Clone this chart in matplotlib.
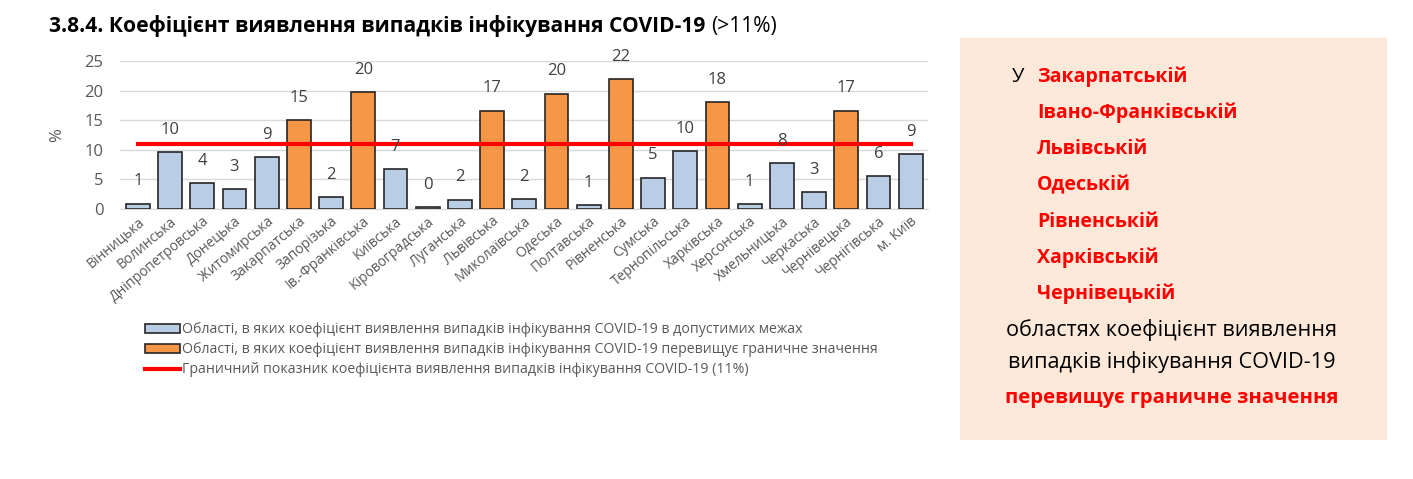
import matplotlib.pyplot as plt
from matplotlib.patches import Patch, Rectangle
from matplotlib.lines import Line2D

plt.rcParams['font.family'] = ['Open Sans', 'DejaVu Sans']

regions = ["Вінницька", "Волинська", "Дніпропетровська", "Донецька", "Житомирська",
           "Закарпатська", "Запорізька", "Ів.-Франківська", "Київська", "Кіровоградська",
           "Луганська", "Львівська", "Миколаївська", "Одеська", "Полтавська",
           "Рівненська", "Сумська", "Тернопільська", "Харківська", "Херсонська",
           "Хмельницька", "Черкаська", "Чернівецька", "Чернігівська", "м. Київ"]
values = [0.9, 9.6, 4.4, 3.4, 8.8, 15.0, 2.0, 19.8, 6.8, 0.3, 1.6, 16.6, 1.7,
          19.5, 0.7, 22.0, 5.3, 9.8, 18.1, 0.8, 7.8, 2.8, 16.6, 5.5, 9.3]
labels = [1, 10, 4, 3, 9, 15, 2, 20, 7, 0, 2, 17, 2, 20, 1, 22, 5, 10, 18, 1, 8, 3, 17, 6, 9]
over_limit = [False, False, False, False, False, True, False, True, False, False,
              False, True, False, True, False, True, False, False, True, False,
              False, False, True, False, False]
limit = 11

highlight = ["Закарпатській", "Івано-Франківській", "Львівській", "Одеській",
             "Рівненській", "Харківській", "Чернівецькій"]

blue = "#B9CDE5"
orange = "#F79646"
gray = "#595959"

fig = plt.figure(figsize=(14.13, 4.79), dpi=100)
ax = fig.add_axes([0.085, 0.5637, 0.572, 0.309])

x = range(len(regions))
colors = [orange if o else blue for o in over_limit]
ax.bar(x, values, width=0.74, color=colors, edgecolor="#262626", linewidth=1.2, zorder=3)
ax.plot([0, len(regions) - 1], [limit, limit], color="#FF0000", linewidth=3, zorder=4)

for i, (v, lab) in enumerate(zip(values, labels)):
    ax.annotate(str(lab), (i, v), xytext=(0, 16), textcoords="offset points",
                ha="center", va="center", fontsize=12, color="#404040", zorder=5)

ax.set_xlim(-0.55, len(regions) - 0.45)
ax.set_ylim(0, 25)
ax.set_yticks([0, 5, 10, 15, 20, 25])
ax.yaxis.grid(True, color="#D9D9D9", linewidth=1, zorder=0)
for s in ["top", "right", "left"]:
    ax.spines[s].set_visible(False)
ax.spines["bottom"].set_color("#D9D9D9")
ax.tick_params(axis="both", length=0, colors=gray, labelsize=12)
ax.tick_params(axis="y", pad=12)
ax.set_xticks(list(x))
ax.set_xticklabels(regions, rotation=40, ha="right", rotation_mode="anchor",
                   fontsize=10, color=gray)
ax.set_ylabel("%", color=gray, fontsize=12, labelpad=14)

handles = [
    Patch(facecolor=blue, edgecolor="#262626", linewidth=1.2),
    Patch(facecolor=orange, edgecolor="#262626", linewidth=1.2),
    Line2D([0], [0], color="#FF0000", linewidth=3),
]
legend_texts = [
    "Області, в яких коефіцієнт виявлення випадків інфікування COVID-19 в допустимих межах",
    "Області, в яких коефіцієнт виявлення випадків інфікування COVID-19 перевищує граничне значення",
    "Граничний показник коефіцієнта виявлення випадків інфікування COVID-19 (11%)",
]
leg = fig.legend(handles, legend_texts, loc="upper left", bbox_to_anchor=(0.0977, 0.342),
                 frameon=False, fontsize=10.15, handlelength=2.45, handleheight=0.57,
                 handletextpad=0.2, labelspacing=0.36, borderpad=0)
for t in leg.get_texts():
    t.set_color(gray)

title = fig.text(0.035, 0.945, "3.8.4. Коефіцієнт виявлення випадків інфікування COVID-19",
                 fontsize=15.1, fontweight="bold", color="black", va="center")
fig.canvas.draw()
bb = title.get_window_extent().transformed(fig.transFigure.inverted())
fig.text(bb.x1 + 0.004, 0.945, "(>11%)", fontsize=15.1, color="black", va="center")

fig.add_artist(Rectangle((960 / 1413, 1 - 440 / 479), 427 / 1413, 402 / 479,
                         transform=fig.transFigure, facecolor="#FDE9D9",
                         edgecolor="none", zorder=0))

fig.text(1012 / 1413, 1 - 77 / 479, "У", fontsize=14.5, color="black", va="center")
for k, name in enumerate(highlight):
    fig.text(1037 / 1413, 1 - (77 + 36.2 * k) / 479, name, fontsize=14,
             fontweight="bold", color="#FF0000", va="center")
fig.text(1172 / 1413, 1 - 330 / 479, "областях коефіцієнт виявлення", fontsize=15.6,
         color="black", va="center", ha="center")
fig.text(1172 / 1413, 1 - 362 / 479, "випадків інфікування COVID-19", fontsize=15.6,
         color="black", va="center", ha="center")
fig.text(1172 / 1413, 1 - 398 / 479, "перевищує граничне значення", fontsize=14.6,
         fontweight="bold", color="#FF0000", va="center", ha="center")

fig.savefig("out.png", dpi=100, facecolor="white")
